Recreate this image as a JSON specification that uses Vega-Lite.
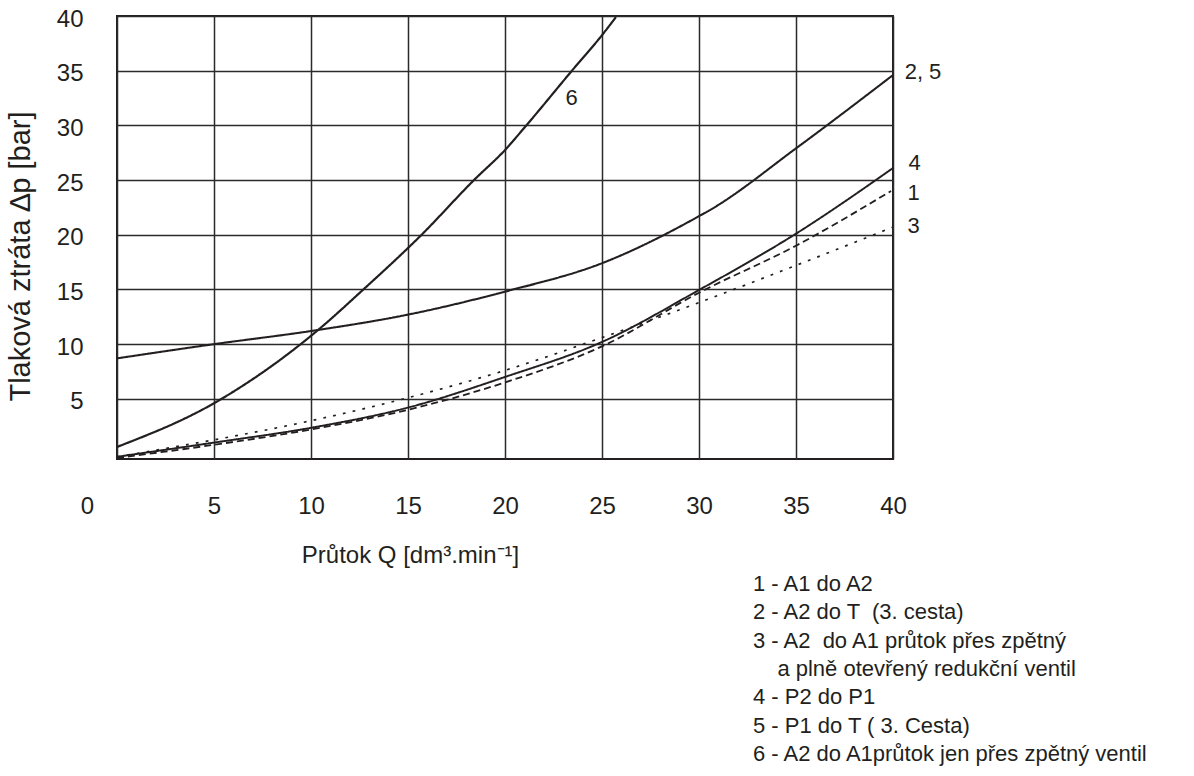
{
  "$schema": "https://vega.github.io/schema/vega-lite/v6.json",
  "width": 776,
  "height": 443,
  "autosize": {"type": "none"},
  "padding": {"left": 117, "top": 16, "right": 301, "bottom": 317},
  "background": "white",
  "config": {
    "view": {"stroke": "#231f20", "strokeWidth": 2},
    "font": "Liberation Sans",
    "text": {"font": "Liberation Sans", "color": "#231f20"}
  },
  "datasets": {
    "curves": [
      {"curve": "6", "Q": 0, "dp": 0.6},
      {"curve": "6", "Q": 5, "dp": 4.6},
      {"curve": "6", "Q": 10.3, "dp": 11.2},
      {"curve": "6", "Q": 12.7, "dp": 15.0},
      {"curve": "6", "Q": 15.7, "dp": 20.0},
      {"curve": "6", "Q": 18.4, "dp": 25.0},
      {"curve": "6", "Q": 20, "dp": 27.75},
      {"curve": "6", "Q": 21.1, "dp": 30.0},
      {"curve": "6", "Q": 23.45, "dp": 35.0},
      {"curve": "6", "Q": 25, "dp": 38.25},
      {"curve": "6", "Q": 25.72, "dp": 39.9},
      {"curve": "2, 5", "Q": 0, "dp": 8.7},
      {"curve": "2, 5", "Q": 5, "dp": 10.0},
      {"curve": "2, 5", "Q": 10, "dp": 11.2},
      {"curve": "2, 5", "Q": 15, "dp": 12.7},
      {"curve": "2, 5", "Q": 20, "dp": 14.8},
      {"curve": "2, 5", "Q": 25, "dp": 17.4},
      {"curve": "2, 5", "Q": 30, "dp": 21.7},
      {"curve": "2, 5", "Q": 30.6, "dp": 22.3},
      {"curve": "2, 5", "Q": 35, "dp": 27.9},
      {"curve": "2, 5", "Q": 40, "dp": 34.6},
      {"curve": "4", "Q": 0, "dp": -0.3},
      {"curve": "4", "Q": 5, "dp": 1.0},
      {"curve": "4", "Q": 10, "dp": 2.35},
      {"curve": "4", "Q": 15, "dp": 4.2},
      {"curve": "4", "Q": 20, "dp": 7.0},
      {"curve": "4", "Q": 25, "dp": 10.2},
      {"curve": "4", "Q": 30, "dp": 14.95},
      {"curve": "4", "Q": 35, "dp": 20.1},
      {"curve": "4", "Q": 40, "dp": 26.1},
      {"curve": "1", "Q": 0, "dp": -0.4},
      {"curve": "1", "Q": 5, "dp": 0.8},
      {"curve": "1", "Q": 10, "dp": 2.2},
      {"curve": "1", "Q": 15, "dp": 4.0},
      {"curve": "1", "Q": 20, "dp": 6.5},
      {"curve": "1", "Q": 25, "dp": 9.8},
      {"curve": "1", "Q": 30, "dp": 14.7},
      {"curve": "1", "Q": 35, "dp": 19.0},
      {"curve": "1", "Q": 39.9, "dp": 24.0},
      {"curve": "3", "Q": 0, "dp": -0.3},
      {"curve": "3", "Q": 5, "dp": 1.25},
      {"curve": "3", "Q": 10, "dp": 3.0},
      {"curve": "3", "Q": 15, "dp": 5.1},
      {"curve": "3", "Q": 20, "dp": 7.6},
      {"curve": "3", "Q": 25, "dp": 10.6},
      {"curve": "3", "Q": 30, "dp": 13.8},
      {"curve": "3", "Q": 35, "dp": 17.2},
      {"curve": "3", "Q": 40, "dp": 20.7}
    ],
    "labels": [
      {"label": "2, 5", "Q": 40.6, "dp": 34.88},
      {"label": "4", "Q": 40.8, "dp": 26.56},
      {"label": "1", "Q": 40.75, "dp": 23.8},
      {"label": "3", "Q": 40.75, "dp": 20.8},
      {"label": "6", "Q": 23.12, "dp": 32.5}
    ]
  },
  "layer": [
    {
      "data": {"name": "curves"},
      "mark": {"type": "line", "interpolate": "monotone", "strokeCap": "butt", "color": "#231f20"},
      "encoding": {
        "x": {
          "field": "Q", "type": "quantitative",
          "scale": {"domain": [0, 40], "nice": false, "zero": false},
          "axis": {
            "values": [0, 5, 10, 15, 20, 25, 30, 35, 40],
            "grid": true, "gridColor": "#2b2b2b", "gridWidth": 1.5,
            "ticks": false, "tickSize": 0, "domain": false,
            "labelFont": "Liberation Sans", "labelFontSize": 24, "labelColor": "#231f20",
            "labelPadding": 35, "labelFlush": false, "labelOverlap": false,
            "labelOffset": {"condition": {"test": "datum.value === 0", "value": -30}, "value": 0},
            "title": "Průtok Q [dm³.min⁻¹]",
            "titleFont": "Liberation Sans", "titleFontSize": 24, "titleFontWeight": "normal", "titleColor": "#231f20",
            "titleX": 293, "titleY": 84, "titleAlign": "center", "titleBaseline": "top"
          }
        },
        "y": {
          "field": "dp", "type": "quantitative",
          "scale": {"domain": [-0.5, 40], "nice": false, "zero": false},
          "axis": {
            "values": [5, 10, 15, 20, 25, 30, 35, 40],
            "grid": true, "gridColor": "#2b2b2b", "gridWidth": 1.5,
            "ticks": false, "tickSize": 0, "domain": false,
            "labelFont": "Liberation Sans", "labelFontSize": 24, "labelColor": "#231f20",
            "labelPadding": 34, "labelFlush": false, "labelOverlap": false, "labelOffset": 3,
            "title": "Tlaková ztráta ∆p [bar]",
            "titleFont": "Liberation Sans", "titleFontSize": 29, "titleFontWeight": "normal", "titleColor": "#231f20",
            "titleX": -97, "titleY": 240, "titleAngle": -90, "titleAlign": "center", "titleBaseline": "middle"
          }
        },
        "detail": {"field": "curve"},
        "strokeDash": {
          "field": "curve", "type": "nominal", "legend": null,
          "scale": {"domain": ["6", "2, 5", "4", "1", "3"], "range": [[1, 0], [1, 0], [1, 0], [7, 4], [2.8, 7.2]]}
        },
        "strokeWidth": {
          "field": "curve", "type": "nominal", "legend": null,
          "scale": {"domain": ["6", "2, 5", "4", "1", "3"], "range": [2.2, 1.7, 1.3, 1.3, 2.8]}
        }
      }
    },
    {
      "data": {"name": "labels"},
      "mark": {"type": "text", "fontSize": 22, "align": "left", "baseline": "middle", "font": "Liberation Sans", "color": "#231f20"},
      "encoding": {
        "x": {"field": "Q", "type": "quantitative"},
        "y": {"field": "dp", "type": "quantitative"},
        "text": {"field": "label"}
      }
    },
    {
      "data": {"values": [{}]},
      "mark": {
        "type": "text", "fontSize": 22, "align": "left", "baseline": "alphabetic", "lineHeight": 28.3,
        "font": "Liberation Sans", "color": "#231f20",
        "text": [
          "1 - A1 do A2",
          "2 - A2 do T \u00a0(3. cesta)",
          "3 - A2 \u00a0do A1 průtok přes zpětný",
          "\u200b\u00a0\u00a0\u00a0\u00a0a plně otevřený redukční ventil",
          "4 - P2 do P1",
          "5 - P1 do T ( 3. Cesta)",
          "6 - A2 do A1průtok jen přes zpětný ventil"
        ]
      },
      "encoding": {
        "x": {"datum": 32.78, "type": "quantitative"},
        "y": {"datum": -12.57, "type": "quantitative"}
      }
    }
  ]
}
